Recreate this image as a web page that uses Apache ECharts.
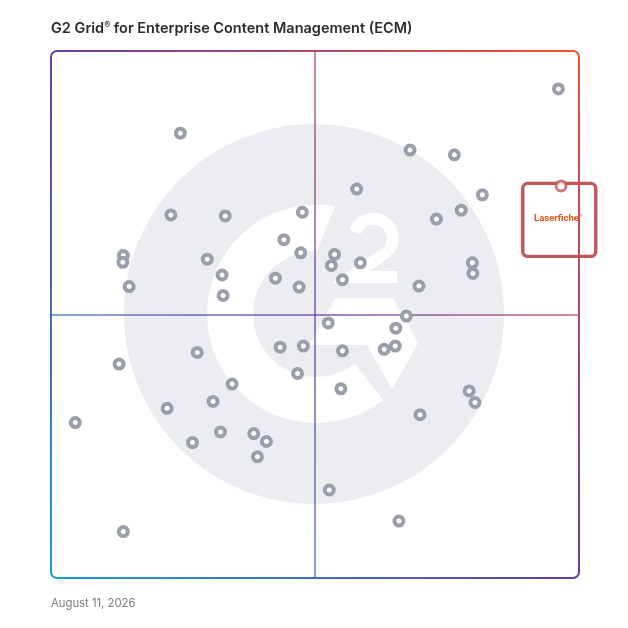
<!DOCTYPE html>
<html><head><meta charset="utf-8">
<script src="https://cdn.jsdelivr.net/npm/echarts@6/dist/echarts.min.js"></script>
<style>html,body{margin:0;padding:0;background:#fff}#c{width:628px;height:628px}</style>
</head><body><div id="c"></div>
<script>
// ---- data ----
const titleMain = 'G2 Grid';
const titleRest = ' for Enterprise Content Management (ECM)';
const dateText = 'August 11, 2026';
const axisMin = 0, axisMax = 100, midValue = 50;
// Market presence (x) and satisfaction (y) of each vendor, 0-100 scale
const productX = [24.5,68.0,76.4,57.9,81.7,22.7,33.0,47.6,77.7,73.0,
  44.1,47.3,29.6,53.7,53.1,58.6,79.8,79.9,32.4,42.5,
  55.2,47.0,32.6,69.7,67.3,52.5,65.3,27.7,43.4,47.8,
  55.2,63.1,65.2,46.7,34.3,54.9,79.2,80.3,22.0,30.7,
  69.9,32.1,38.4,40.8,26.8,39.1,52.7,96.1,13.7,13.6,
  14.8,12.9,4.6,13.7,65.9];
const productY = [84.4,81.2,80.3,73.8,72.7,68.9,68.7,69.4,69.8,68.1,
  64.2,61.7,60.5,61.4,59.3,59.8,59.8,57.8,57.5,56.9,
  56.6,55.2,53.6,55.4,49.7,48.4,47.4,42.8,43.8,44.0,
  43.1,43.4,44.0,38.8,36.8,35.9,35.5,33.3,32.2,33.5,
  31.0,27.7,27.4,25.9,25.7,23.0,16.7,92.8,61.2,59.9,
  55.3,40.6,29.5,8.8,10.8];
const highlightName = 'Laserfiche';
const highlightX = [96.6];
const highlightY = [74.4];

// ---- chart ----
const chart = echarts.init(document.getElementById('c'), null, {renderer:'canvas'});
const G = 51, GR = 579, GT = 51, GB = 578;
const D = Math.PI / 180;
function grad(){
  return new echarts.graphic.LinearGradient(G, GB, GR, GT, [
    {offset:0, color:'#1d9bd7'},
    {offset:0.5, color:'#653da3'},
    {offset:1, color:'#f7512a'}
  ], true);
}
const wm = '#ebedf0';
const gcx = 316, gcy = 314;
function op(r, a){ return [gcx + r*Math.cos(a*D), gcy + r*Math.sin(a*D)]; }
const option = {
  animation:false,
  backgroundColor:'#fff',
  title:[
    {text:'{a|'+titleMain+'}{s|®}{a|'+titleRest+'}', left:51, top:21, padding:0,
     textStyle:{rich:{
       a:{fontFamily:'Inter', fontSize:14.5, fontWeight:600, color:'#2b2b2b'},
       s:{fontFamily:'Inter', fontSize:9, fontWeight:600, color:'#2b2b2b', verticalAlign:'top', padding:[0,0,5,0]}
     }}},
    {text:dateText, left:51, top:598, padding:0,
     textStyle:{fontFamily:'Inter', fontSize:11.3, fontWeight:'normal', color:'#7b7b7b'}}
  ],
  grid:{left:G, top:GT, width:GR-G, height:GB-GT, show:false},
  xAxis:{type:'value', min:axisMin, max:axisMax, show:false},
  yAxis:{type:'value', min:axisMin, max:axisMax, show:false},
  graphic:[
    {type:'group', z:-10, silent:true, children:[
      {type:'circle', shape:{cx:314, cy:314, r:190}, style:{fill:wm}},
      {type:'sector', shape:{cx:gcx, cy:gcy, r0:63, r:109, startAngle:52*D, endAngle:271*D, clockwise:true}, style:{fill:'#fff'}},
      {type:'polygon', shape:{points:[op(62,270.5), op(109.5,270.5), op(109.5,274), op(109.5,277), op(109.5,280)]}, style:{fill:'#fff'}},
      {type:'polygon', shape:{points:[[335,298],[393,298],[418,343],[392,390],[367,345],[309,345]]}, style:{fill:'#fff'}},
      {type:'arc', shape:{cx:373.3, cy:238.3, r:19.5, startAngle:-161*D, endAngle:39*D, clockwise:true}, style:{fill:null, stroke:'#fff', lineWidth:12}},
      {type:'polyline', shape:{points:[[388.5,250.6],[351,277],[397,277]]}, style:{fill:null, stroke:'#fff', lineWidth:12, lineJoin:'miter'}}
    ]},
    {type:'rect', z:50, silent:true, shape:{x:G, y:GT, width:GR-G, height:GB-GT, r:6}, style:{fill:null, stroke:grad(), lineWidth:2}}
  ],
  series:[
    {type:'scatter', z:3,
     data:productX.map((x,i)=>[x, productY[i]]),
     symbol:'circle', symbolSize:9,
     itemStyle:{color:'#fff', borderColor:'#9a9fab', borderWidth:4, opacity:1},
     markLine:{silent:true, symbol:['none','none'], label:{show:false}, z:2,
       lineStyle:{color:grad(), width:1.5, type:'solid', opacity:0.85},
       data:[{xAxis:midValue},{yAxis:midValue}]}
    },
    {type:'custom', z:20, clip:false,
     data:highlightX.map((x,i)=>[x, highlightY[i]]),
     renderItem:function(params, api){
       const p = api.coord([api.value(0), api.value(1)]);
       return {type:'group', children:[
         {type:'rect', shape:{x:p[0]-38.3, y:p[1]-2.5, width:73, height:73, r:5},
          style:{fill:'#fff', stroke:'#c2575a', lineWidth:3.4}},
         {type:'text', x:p[0]-3, y:p[1]+33,
          style:{text:'{a|'+highlightName+'}{b|®}', align:'center', verticalAlign:'middle',
            rich:{a:{fontFamily:'Roboto', fontSize:9.5, fontWeight:'bold', fill:'#e2561d', color:'#e2561d'},
                  b:{fontFamily:'Roboto', fontSize:4, fill:'#e2561d', color:'#e2561d', verticalAlign:'top'}}}}
       ]};
     }
    },
    {type:'scatter', z:30, name:highlightName,
     data:highlightX.map((x,i)=>[x, highlightY[i]]),
     symbol:'circle', symbolSize:10,
     itemStyle:{color:'#fff', borderColor:'#c2575a', borderWidth:3}}
  ]
};
chart.setOption(option);
</script></body></html>
